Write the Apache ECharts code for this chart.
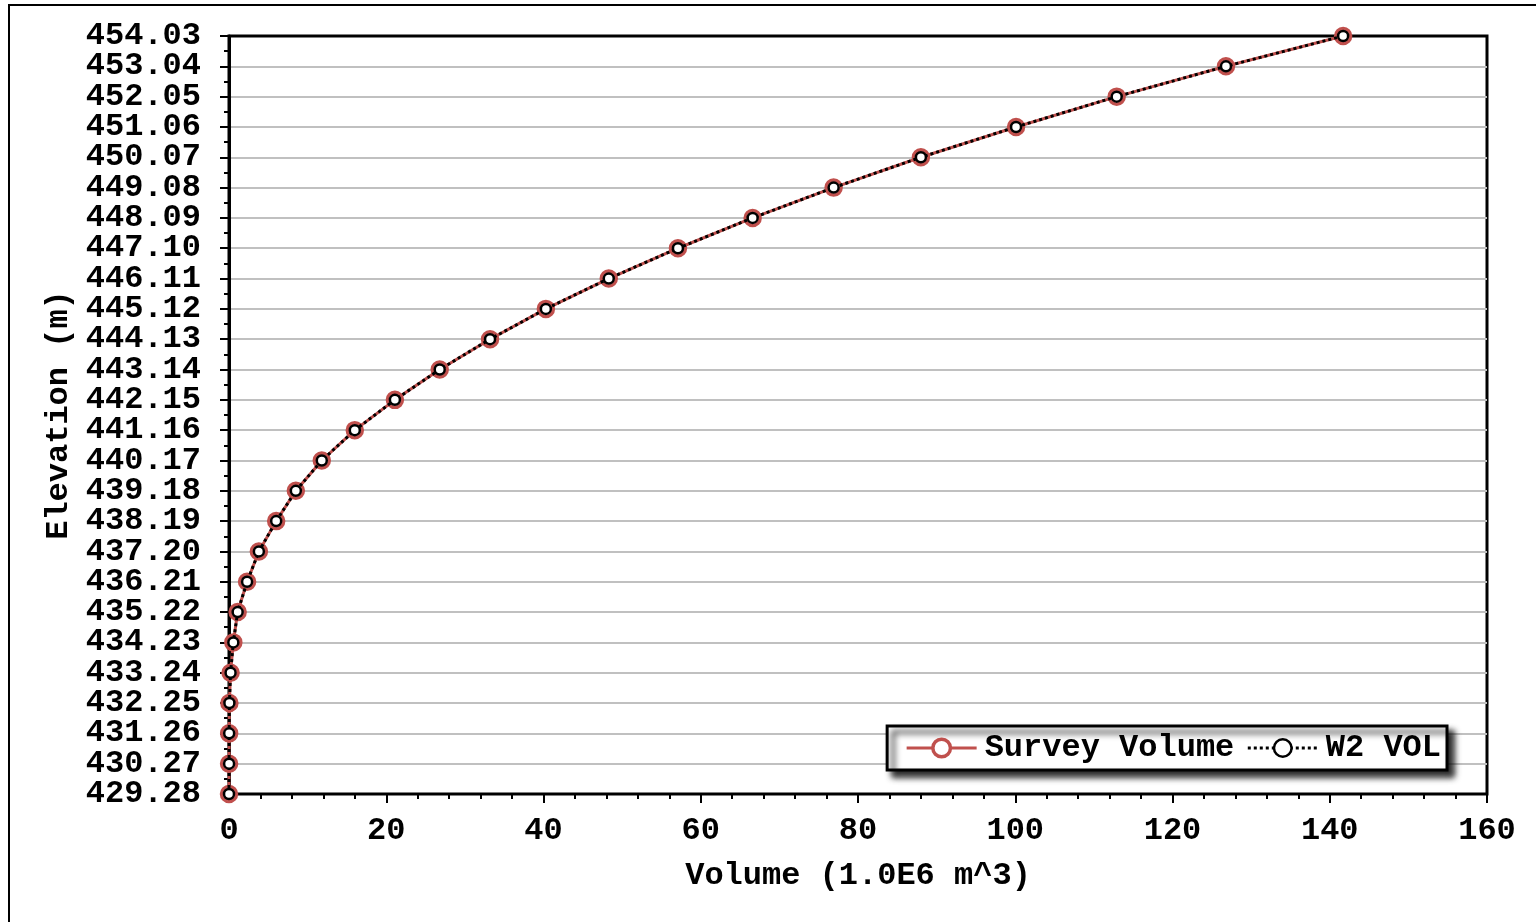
<!DOCTYPE html>
<html lang="en">
<head>
  <meta charset="UTF-8">
  <title>Elevation vs Volume</title>
  <style>
    html, body { margin: 0; padding: 0; background: #fff; }
  </style>
</head>
<body>
  <div id="main" style="width:1536px;height:922px"></div>

  <script src="https://cdn.jsdelivr.net/npm/echarts@6/dist/echarts.min.js"></script>

  <script>
    // elevation levels (m), bottom to top
    var elevations = ['429.28', '430.27', '431.26', '432.25', '433.24', '434.23', '435.22', '436.21',
      '437.20', '438.19', '439.18', '440.17', '441.16', '442.15', '443.14', '444.13', '445.12',
      '446.11', '447.10', '448.09', '449.08', '450.07', '451.06', '452.05', '453.04', '454.03']
    // volumes (1.0E6 m^3)
    var surveyVolume = [0, 0.01, 0.02, 0.05, 0.2, 0.55, 1.1, 2.3, 3.8, 6.0, 8.5, 11.8, 16.0, 21.1,
      26.8, 33.2, 40.3, 48.3, 57.1, 66.6, 76.9, 88.0, 100.1, 112.9, 126.8, 141.7]
    var w2Vol = [0, 0.01, 0.02, 0.05, 0.2, 0.55, 1.1, 2.3, 3.8, 6.0, 8.5, 11.8, 16.0, 21.1,
      26.8, 33.2, 40.3, 48.3, 57.1, 66.6, 76.9, 88.0, 100.1, 112.9, 126.8, 141.7]
    var xTicks = [0, 20, 40, 60, 80, 100, 120, 140, 160]

    var font = 'Liberation Mono'
    var fs = 32

    function pairs(vals) {
      return vals.map(function (v, i) { return [v, elevations[i]] })
    }

    var gridBox = { left: 229, right: 49, top: 36, bottom: 128 }

    var myChart = echarts.init(document.getElementById('main'))
    var options = {
      backgroundColor: '#fff',
      textStyle: { fontFamily: font, fontWeight: 'bold', color: '#000' },
      graphic: [{
        type: 'rect',
        shape: { x: 9, y: 5, width: 1600, height: 1000 },
        style: { fill: 'none', stroke: '#000', lineWidth: 2 },
        silent: true
      }],
      grid: [
        Object.assign({ show: true, borderColor: '#000', borderWidth: 3 }, gridBox),
        // same box again, just to carry the minor y ticks
        Object.assign({ show: false }, gridBox)
      ],
      legend: {
        right: 89, top: 726,
        padding: [6, 6, 6, 18],
        itemWidth: 70, itemHeight: 22, itemGap: 12,
        backgroundColor: '#fff',
        borderColor: '#000', borderWidth: 3, borderRadius: 0,
        shadowColor: 'rgba(0,0,0,0.85)', shadowBlur: 6, shadowOffsetX: 6, shadowOffsetY: 6,
        itemStyle: { borderWidth: 'inherit' },
        lineStyle: { width: 'inherit' },
        textStyle: { fontFamily: font, fontWeight: 'bold', fontSize: fs, color: '#000', padding: [0, 0, 0, 3] },
        data: ['Survey Volume', 'W2 VOL']
      },
      xAxis: [{
        type: 'value',
        min: xTicks[0], max: xTicks[xTicks.length - 1], interval: 20,
        name: 'Volume (1.0E6 m^3)',
        nameLocation: 'middle', nameGap: 66,
        nameTextStyle: { fontFamily: font, fontWeight: 'bold', fontSize: fs, color: '#000' },
        axisLine: { lineStyle: { color: '#000', width: 3 } },
        axisTick: { show: true, length: 9, lineStyle: { color: '#000', width: 2 } },
        minorTick: { show: true, splitNumber: 5, length: 5, lineStyle: { color: '#000', width: 2 } },
        splitLine: { show: false },
        axisLabel: { margin: 21, fontFamily: font, fontWeight: 'bold', fontSize: fs, color: '#000' }
      }, {
        gridIndex: 1, type: 'value', min: 0, max: 1, show: false
      }],
      yAxis: [{
        type: 'category',
        data: elevations,
        boundaryGap: false,
        name: 'Elevation (m)',
        nameLocation: 'middle', nameGap: 150,
        nameTextStyle: { fontFamily: font, fontWeight: 'bold', fontSize: fs, color: '#000' },
        axisLine: { lineStyle: { color: '#000', width: 3 } },
        axisTick: { show: true, length: 9, interval: 0, lineStyle: { color: '#000', width: 2 } },
        splitLine: {
          show: true,
          // skip the lines that sit on the frame
          interval: function (i) { return i > 0 && i < elevations.length - 1 },
          lineStyle: { color: '#c0c0c0', width: 2 }
        },
        axisLabel: { interval: 0, margin: 28, fontFamily: font, fontWeight: 'bold', fontSize: fs, color: '#000' }
      }, {
        gridIndex: 1, type: 'value', position: 'left',
        min: 0, max: elevations.length - 1, interval: 1,
        axisLine: { show: false, onZero: false },
        axisTick: { show: false },
        axisLabel: { show: false },
        splitLine: { show: false },
        minorTick: { show: true, splitNumber: 2, length: 5, lineStyle: { color: '#000', width: 2 } }
      }],
      series: [{
        name: 'Survey Volume',
        type: 'line',
        data: pairs(surveyVolume),
        symbol: 'circle', symbolSize: 15,
        lineStyle: { color: '#c0504d', width: 3 },
        itemStyle: { color: '#fff', borderColor: '#c0504d', borderWidth: 3.5 },
        z: 2
      }, {
        name: 'W2 VOL',
        type: 'line',
        data: pairs(w2Vol),
        symbol: 'circle', symbolSize: 10,
        lineStyle: { color: '#000', width: 3, type: [3, 3] },
        itemStyle: { color: '#fff', borderColor: '#000', borderWidth: 2.5 },
        z: 3
      }]
    }
    myChart.setOption(options)
  </script>
</body>
</html>
